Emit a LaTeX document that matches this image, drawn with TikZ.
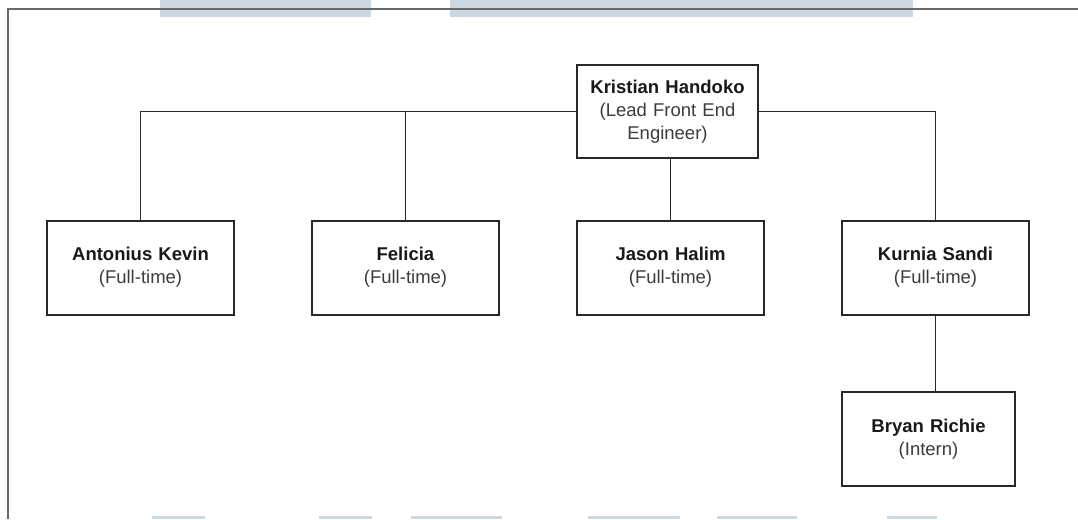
\documentclass[tikz,border=0pt]{standalone}
\usepackage{fontspec}
\setmainfont{Liberation Sans}
\usepackage{tikz}
\definecolor{watermark}{RGB}{203,216,226}
\definecolor{linegray}{RGB}{40,40,40}
\definecolor{framegray}{RGB}{105,105,105}
\definecolor{ink}{RGB}{25,25,25}
\definecolor{rolegray}{RGB}{60,60,60}
\tikzstyle{lead} = [rectangle, minimum width=181pt, minimum height=93pt, text centered, text width=173pt, draw=linegray, line width=2pt, fill=white, text=ink, font=\fontsize{18.5}{23}\selectfont]
\tikzstyle{member} = [rectangle, minimum width=187pt, minimum height=94pt, text centered, text width=179pt, draw=linegray, line width=2pt, fill=white, text=ink, font=\fontsize{18.5}{23}\selectfont]
\tikzstyle{link} = [line width=1.8pt, draw=linegray]
\newcommand{\role}[1]{{\color{rolegray}#1}}

\begin{document}
\begin{tikzpicture}[x=1pt, y=-1pt, node distance=265pt]

\useasboundingbox (0,0) rectangle (1078,519);
\fill [white] (0,0) rectangle (1078,519);

\foreach \a/\b in {160/371, 450/913}
  \fill [watermark] (\a,0) rectangle (\b,17);
\foreach \a/\b in {152/205, 319/372, 411/502, 588/680, 717/797, 887/937}
  \fill [watermark] (\a,516) rectangle (\b,519);
\draw [framegray, line width=1.8pt] (8,519) -- (8,9) -- (1080,9);

\node (kristian) [lead] at (667.5,111.5) {\textbf{Kristian Handoko}\\\role{(Lead Front End}\\\role{Engineer)}};
\node (antonius) [member] at (140.5,267.5) {\textbf{Antonius Kevin}\\\role{(Full-time)}};
\node (felicia) [member, right of=antonius] {\textbf{Felicia}\\\role{(Full-time)}};
\node (jason) [member, right of=felicia] {\textbf{Jason Halim}\\\role{(Full-time)}};
\node (kurnia) [member, right of=jason] {\textbf{Kurnia Sandi}\\\role{(Full-time)}};
\node (bryan) [member, below of=kurnia, node distance=171.5pt, xshift=-7pt, minimum width=173pt, text width=165pt] {\textbf{Bryan Richie}\\\role{(Intern)}};

\draw [link] (kristian.west) -| (antonius.north);
\draw [link] (kristian.west) -| (felicia.north);
\draw [link] (kristian.east) -| (kurnia.north);
\draw [link] (jason.north) -- (jason.north |- kristian.south);
\draw [link] (kurnia.north |- kurnia.south) -- (kurnia.north |- bryan.north);

\end{tikzpicture}
\end{document}
